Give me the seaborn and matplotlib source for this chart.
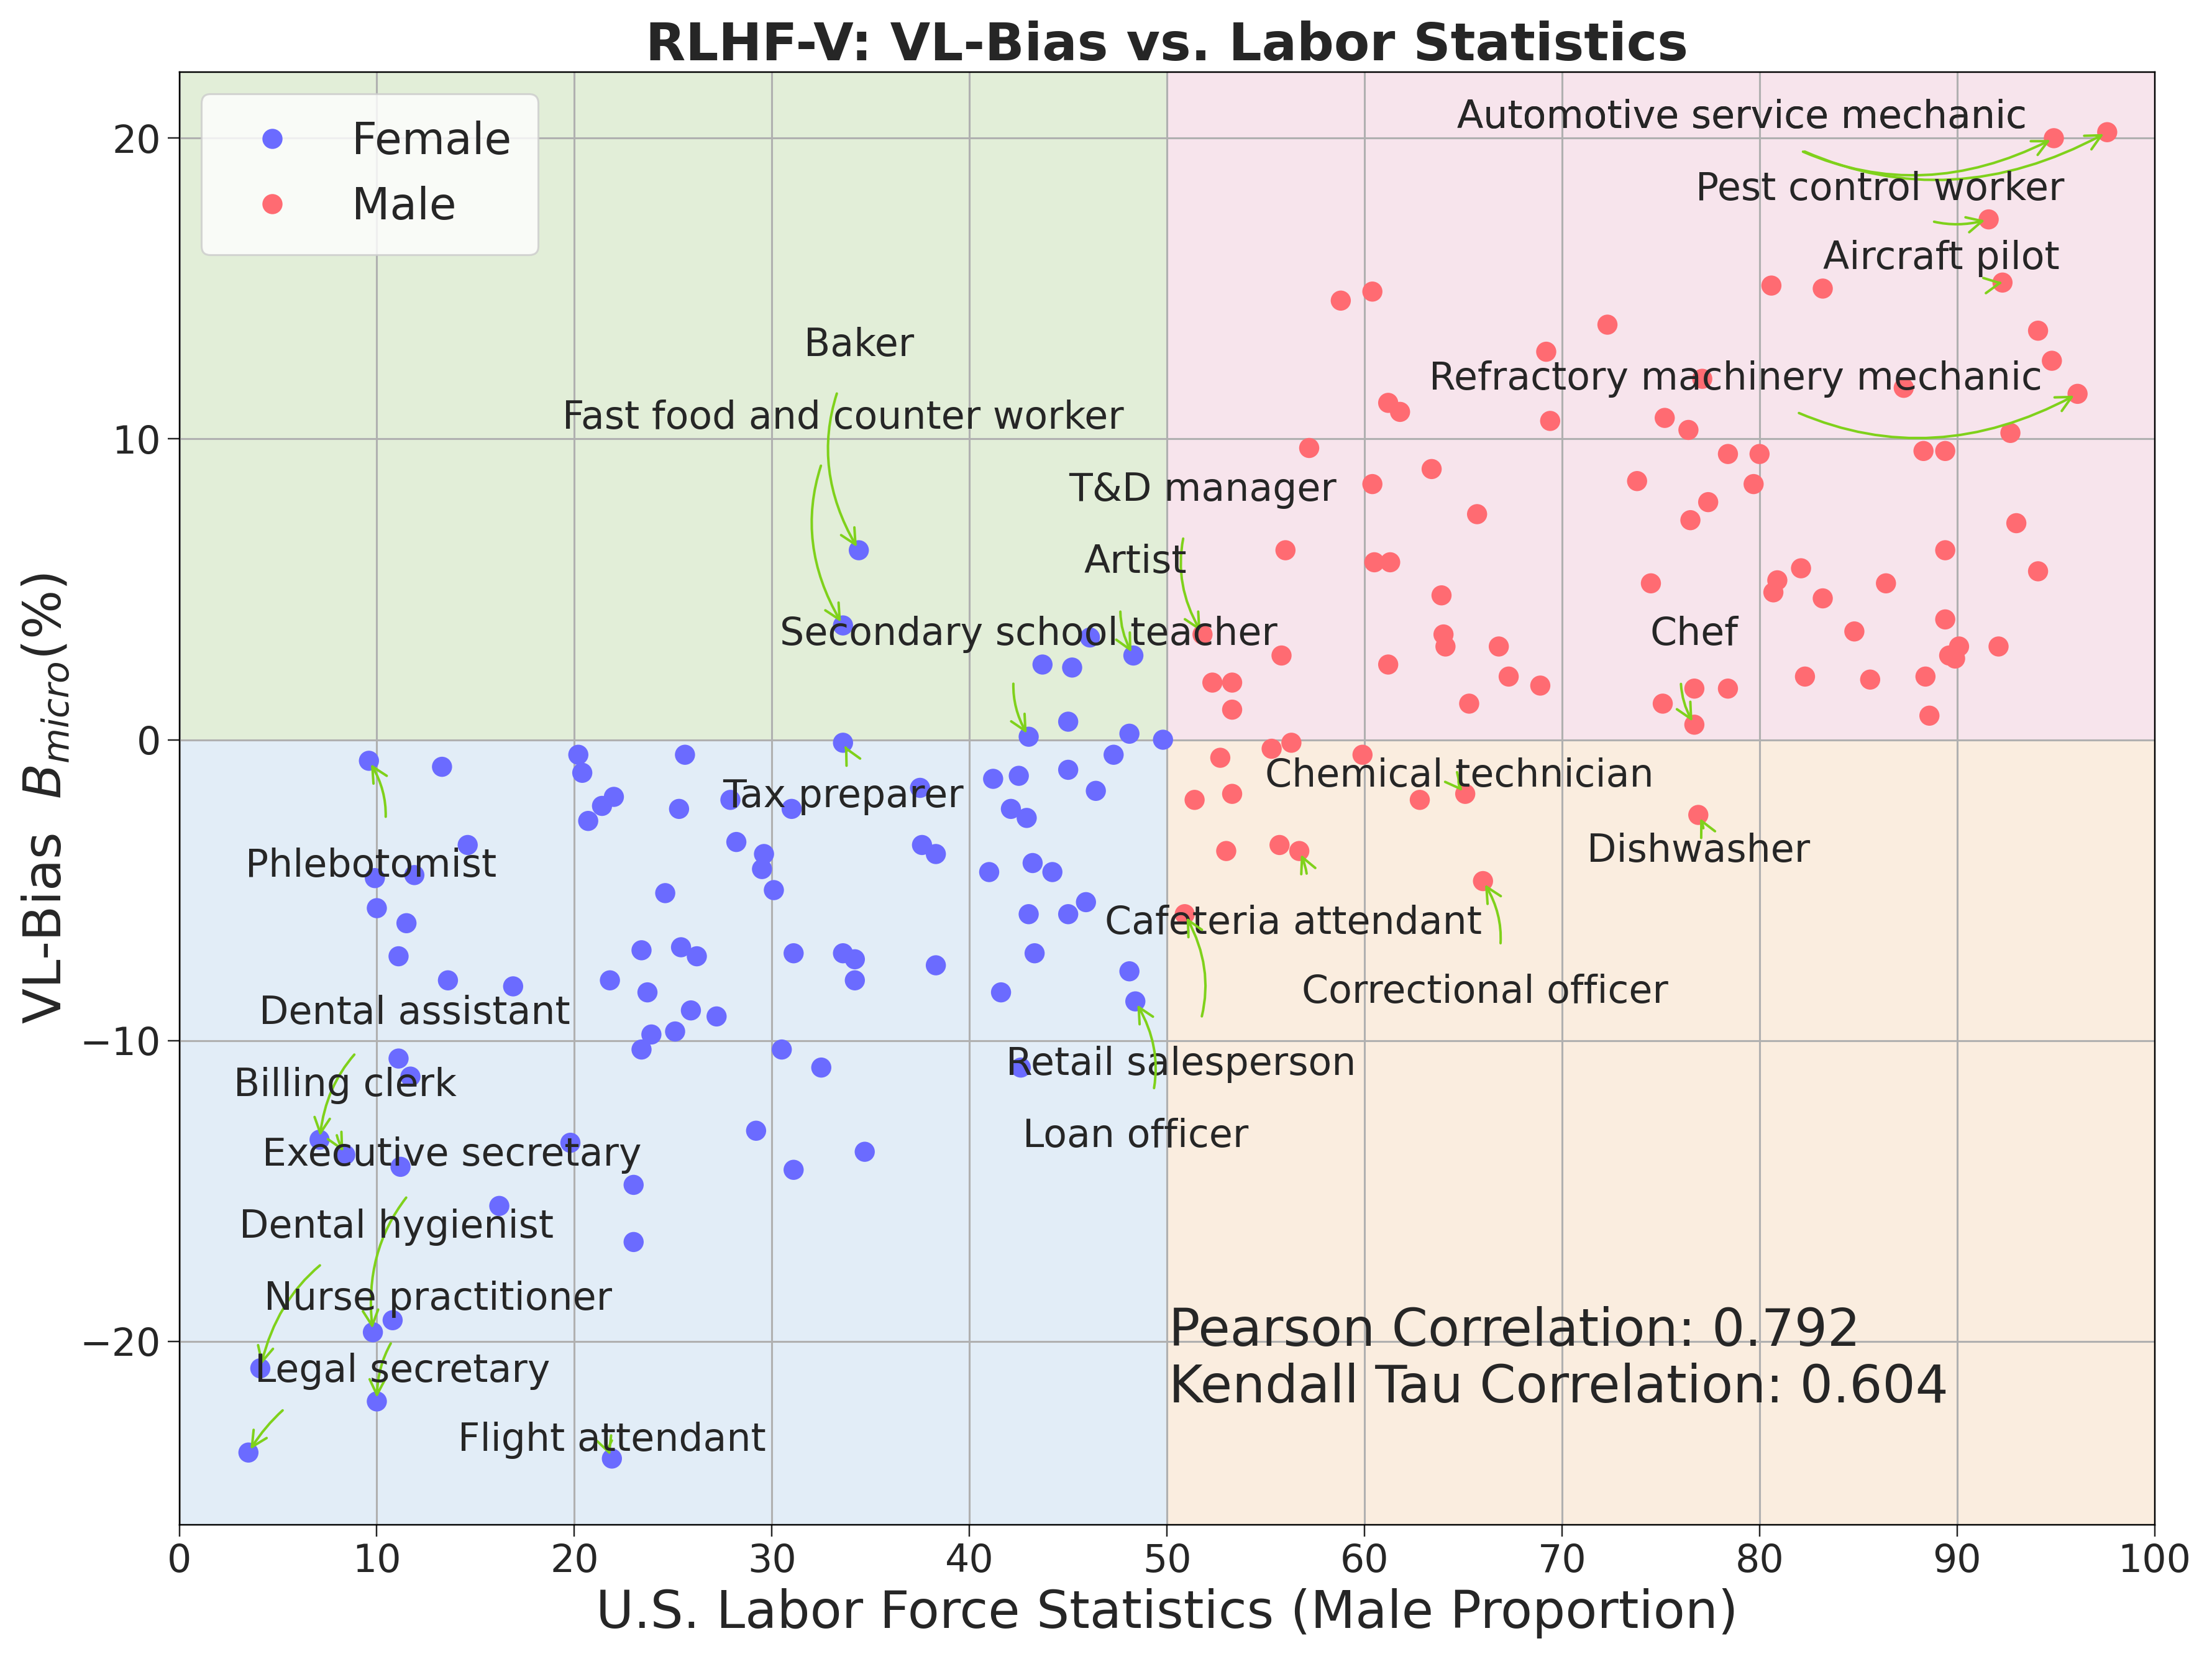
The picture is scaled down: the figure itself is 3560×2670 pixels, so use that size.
import numpy as np
import pandas as pd
import seaborn as sns
import matplotlib.pyplot as plt

female_x = [9.6, 13.3, 14.6, 9.9, 10.0, 11.9, 11.5, 11.1, 13.6, 16.9, 11.1, 11.7, 7.1, 8.4, 11.2,
            16.2, 19.8, 9.8, 10.8, 10.0, 4.1, 3.5, 21.9, 23.0, 23.0, 23.4, 23.9, 23.7, 21.8, 23.4,
            25.1, 25.9, 24.6, 25.4, 26.2, 27.2, 25.3, 25.6, 20.2, 20.4, 20.7, 21.4, 22.0, 27.9,
            28.2, 29.6, 29.5, 30.1, 31.0, 31.1, 30.5, 29.2, 31.1, 32.5, 34.7, 33.6, 34.2, 34.2,
            33.6, 33.6, 34.4, 37.5, 37.6, 38.3, 38.3, 41.2, 41.0, 41.6, 42.1, 42.5, 42.9, 43.2,
            44.2, 43.0, 43.3, 42.6, 43.7, 45.2, 46.1, 48.3, 45.0, 43.0, 48.1, 49.8, 47.3, 46.4,
            45.0, 45.0, 45.9, 48.1, 48.4]
female_y = [-0.7, -0.9, -3.5, -4.6, -5.6, -4.5, -6.1, -7.2, -8.0, -8.2, -10.6, -11.2, -13.3, -13.8, -14.2,
            -15.5, -13.4, -19.7, -19.3, -22.0, -20.9, -23.7, -23.9, -14.8, -16.7, -10.3, -9.8, -8.4, -8.0, -7.0,
            -9.7, -9.0, -5.1, -6.9, -7.2, -9.2, -2.3, -0.5, -0.5, -1.1, -2.7, -2.2, -1.9, -2.0,
            -3.4, -3.8, -4.3, -5.0, -2.3, -7.1, -10.3, -13.0, -14.3, -10.9, -13.7, -7.1, -7.3, -8.0,
            -0.1, 3.8, 6.3, -1.6, -3.5, -3.8, -7.5, -1.3, -4.4, -8.4, -2.3, -1.2, -2.6, -4.1,
            -4.4, -5.8, -7.1, -10.9, 2.5, 2.4, 3.4, 2.8, 0.6, 0.1, 0.2, 0.0, -0.5, -1.7,
            -1.0, -5.8, -5.4, -7.7, -8.7]
male_x = [50.9, 51.4, 52.3, 53.3, 53.3, 52.7, 53.3, 53.0, 51.8, 55.3, 56.3, 55.7, 56.7, 55.8, 56.0,
          57.2, 58.8, 60.4, 60.4, 60.5, 61.3, 61.2, 61.8, 59.9, 61.2, 62.8, 63.4, 63.9, 64.0, 64.1,
          65.1, 65.3, 65.7, 66.8, 67.3, 66.0, 68.9, 69.2, 69.4, 72.3, 73.8, 74.5, 75.1, 75.2, 76.4,
          76.5, 76.7, 76.7, 77.4, 77.1, 76.9, 78.4, 78.4, 79.7, 80.0, 80.6, 80.7, 80.9, 82.1, 82.3,
          83.2, 83.2, 84.8, 85.6, 86.4, 87.3, 88.3, 88.4, 88.6, 89.4, 89.4, 89.4, 89.6, 89.9, 90.1,
          91.6, 92.3, 92.1, 92.7, 93.0, 94.1, 94.1, 94.8, 94.9, 96.1, 97.6]
male_y = [-5.8, -2.0, 1.9, 1.9, 1.0, -0.6, -1.8, -3.7, 3.5, -0.3, -0.1, -3.5, -3.7, 2.8, 6.3,
          9.7, 14.6, 14.9, 8.5, 5.9, 5.9, 11.2, 10.9, -0.5, 2.5, -2.0, 9.0, 4.8, 3.5, 3.1,
          -1.8, 1.2, 7.5, 3.1, 2.1, -4.7, 1.8, 12.9, 10.6, 13.8, 8.6, 5.2, 1.2, 10.7, 10.3,
          7.3, 1.7, 0.5, 7.9, 12.0, -2.5, 9.5, 1.7, 8.5, 9.5, 15.1, 4.9, 5.3, 5.7, 2.1,
          15.0, 4.7, 3.6, 2.0, 5.2, 11.7, 9.6, 2.1, 0.8, 9.6, 6.3, 4.0, 2.8, 2.7, 3.1,
          17.3, 15.2, 3.1, 10.2, 7.2, 13.6, 5.6, 12.6, 20.0, 11.5, 20.2]

# label, text position (x, y), target point (x, y)
labels = ["Automotive service mechanic", "Automotive service mechanic", "Pest control worker",
          "Aircraft pilot", "Refractory machinery mechanic", "Chef", "Dishwasher",
          "Chemical technician", "Cafeteria attendant", "Correctional officer",
          "Retail salesperson", "Loan officer", "T&D manager", "Artist",
          "Secondary school teacher", "Baker", "Fast food and counter worker", "Tax preparer",
          "Phlebotomist", "Dental assistant", "Billing clerk", "Executive secretary",
          "Dental hygienist", "Nurse practitioner", "Legal secretary", "Flight attendant"]
text_xy = [(79.1, 20.7), (79.1, 20.7), (86.1, 18.3), (89.2, 16.0), (78.8, 12.0), (76.7, 3.5),
           (76.9, -3.7), (64.8, -1.2), (56.4, -6.1), (66.1, -8.4), (50.7, -10.8), (48.4, -13.2),
           (51.8, 8.3), (48.4, 5.9), (43.0, 3.5), (34.4, 13.1), (33.6, 10.7), (33.6, -1.9),
           (9.7, -4.2), (11.9, -9.1), (8.4, -11.5), (13.8, -13.8), (11.0, -16.2), (13.1, -18.6),
           (11.3, -21.0), (21.9, -23.3)]
target_xy = [(94.9, 20.0), (97.6, 20.2), (91.6, 17.3), (92.3, 15.2), (96.1, 11.5), (76.7, 0.5),
             (76.9, -2.5), (65.1, -1.8), (56.7, -3.7), (66.0, -4.7), (50.9, -5.8), (48.4, -8.7),
             (51.8, 3.5), (48.3, 2.8), (43.0, 0.1), (34.4, 6.3), (33.6, 3.8), (33.6, -0.1),
             (9.6, -0.7), (7.1, -13.3), (8.4, -13.8), (9.8, -19.7), (4.1, -20.9), (10.0, -22.0),
             (3.5, -23.7), (21.9, -23.9)]

df = pd.DataFrame({
    "x": female_x + male_x,
    "y": female_y + male_y,
    "gender": ["Female"] * len(female_x) + ["Male"] * len(male_x),
})

sns.set_style("ticks")
plt.rcParams["font.family"] = ["DejaVu Sans"]
fig, ax = plt.subplots(figsize=(16, 12), dpi=222.5)

ylo, yhi = -26.1, 22.2
ax.fill_between([0, 50], 0, yhi, color="#e2eed8", zorder=0)
ax.fill_between([50, 100], 0, yhi, color="#f7e4ec", zorder=0)
ax.fill_between([0, 50], ylo, 0, color="#e2edf7", zorder=0)
ax.fill_between([50, 100], ylo, 0, color="#faeddf", zorder=0)
ax.grid(True, color="#b0b0b0", linewidth=1, zorder=1)
ax.set_axisbelow(True)

sns.scatterplot(data=df, x="x", y="y", hue="gender",
                palette={"Female": "#6b6bff", "Male": "#ff6b72"},
                s=110, edgecolor="none", ax=ax, zorder=3)

for lab, (tx, ty), (px, py) in zip(labels, text_xy, target_xy):
    ax.annotate(lab, xy=(px, py), xytext=(tx, ty), fontsize=20, ha="center", va="center",
                arrowprops=dict(arrowstyle="->", color="#7fd11b", lw=1.3,
                                connectionstyle="arc3,rad=0.3", shrinkA=14, shrinkB=2),
                zorder=4)

ax.text(50.1, -20.6, "Pearson Correlation: 0.792\nKendall Tau Correlation: 0.604",
        fontsize=27, va="center", ha="left", linespacing=1.15)

ax.set_xlim(0, 100)
ax.set_ylim(ylo, yhi)
ax.set_xticks(range(0, 101, 10))
ax.set_yticks([-20, -10, 0, 10, 20])
ax.tick_params(labelsize=20, length=6)
ax.set_xlabel("U.S. Labor Force Statistics (Male Proportion)", fontsize=27)
ax.set_ylabel(r"VL-Bias  $B_{micro}(\%)$", fontsize=27)
ax.set_title("RLHF-V: VL-Bias vs. Labor Statistics", fontsize=27, fontweight="bold", pad=6)
for s in ax.spines.values():
    s.set_color("black")
ax.legend(loc="upper left", fontsize=23, markerscale=1.0, framealpha=0.8, borderpad=0.6)

plt.tight_layout()
fig.savefig("out.png", dpi=222.5)
